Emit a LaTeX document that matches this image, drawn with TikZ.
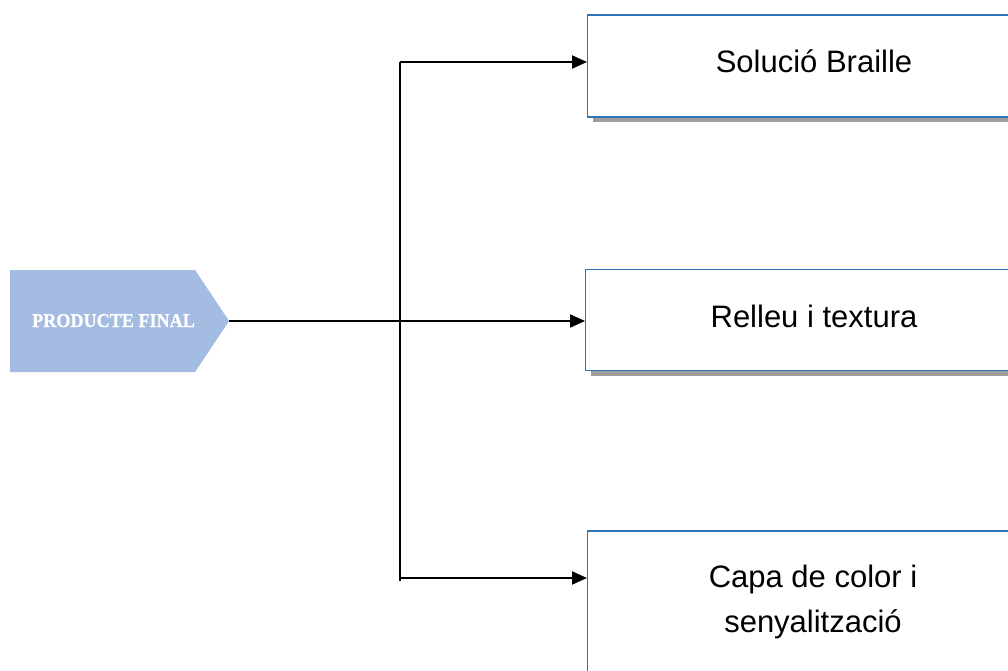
\documentclass[tikz,border=0pt]{standalone}
\usepackage{fontspec}
\setmainfont{Liberation Sans}
\newfontfamily\tagserif[FakeStretch=0.93,FakeBold=0.6]{Liberation Serif}
\usetikzlibrary{arrows.meta,shadows}
\definecolor{tagfill}{HTML}{A4BBE2}
\definecolor{boxline}{HTML}{2E75B6}
\begin{document}
\begin{tikzpicture}[x=1pt,y=-1pt,
  flow/.style={line width=2pt,-{Triangle[length=15pt,width=13pt]}},
  trunk/.style={line width=2pt},
  optbox/.style={draw=boxline, line width=1.3pt, fill=white,
    minimum width=454pt, anchor=west, inner sep=0pt,
    drop shadow={shadow xshift=5pt,shadow yshift=-5pt,fill=black!38,opacity=1}},
  boxtext/.style={anchor=base, inner sep=0pt, font=\fontsize{31}{45}\selectfont},
]
\useasboundingbox (0,0) rectangle (1008,671);
\clip (0,0) rectangle (1008,671);

% arrow-shaped tag on the left
\fill[tagfill] (10,270) -- (195,270) -- (229,321) -- (195,372) -- (10,372) -- cycle;
\coordinate (tip) at (229,321);
\node[anchor=base, inner sep=0pt, text=white,
      font=\tagserif\bfseries\fontsize{19.5}{22}\selectfont] (prod) at (113.5,327) {PRODUCTE FINAL};

% the three option boxes (the last one runs past the lower edge)
\node[optbox, minimum height=102pt] (b1) at (587,66) {};
\node[optbox, minimum height=101pt] (b2) at (585,320) {};
\node[optbox, minimum height=170pt] (b3) at (587,616) {};
\node[boxtext] (t1) at (814,73) {Solució Braille};
\node[boxtext] (t2) at (814,327) {Relleu i textura};
\node[boxtext] (t3a) at (813,587) {Capa de color i};
\node[boxtext] (t3b) at (813,632) {senyalització};

% branching connectors
\coordinate (j1) at (400,62);
\coordinate (j2) at (400,321);
\coordinate (j3) at (400,578);
\coordinate (jend) at (400,581);
\draw[trunk] (j1) -- (jend);
\draw[trunk] (tip) -- (j2);
\draw[flow] (j1) -- (j1 -| b1.west);
\draw[flow] (j2) -- (j2 -| b2.west);
\draw[flow] (j3) -- (j3 -| b3.west);
\end{tikzpicture}
\end{document}
